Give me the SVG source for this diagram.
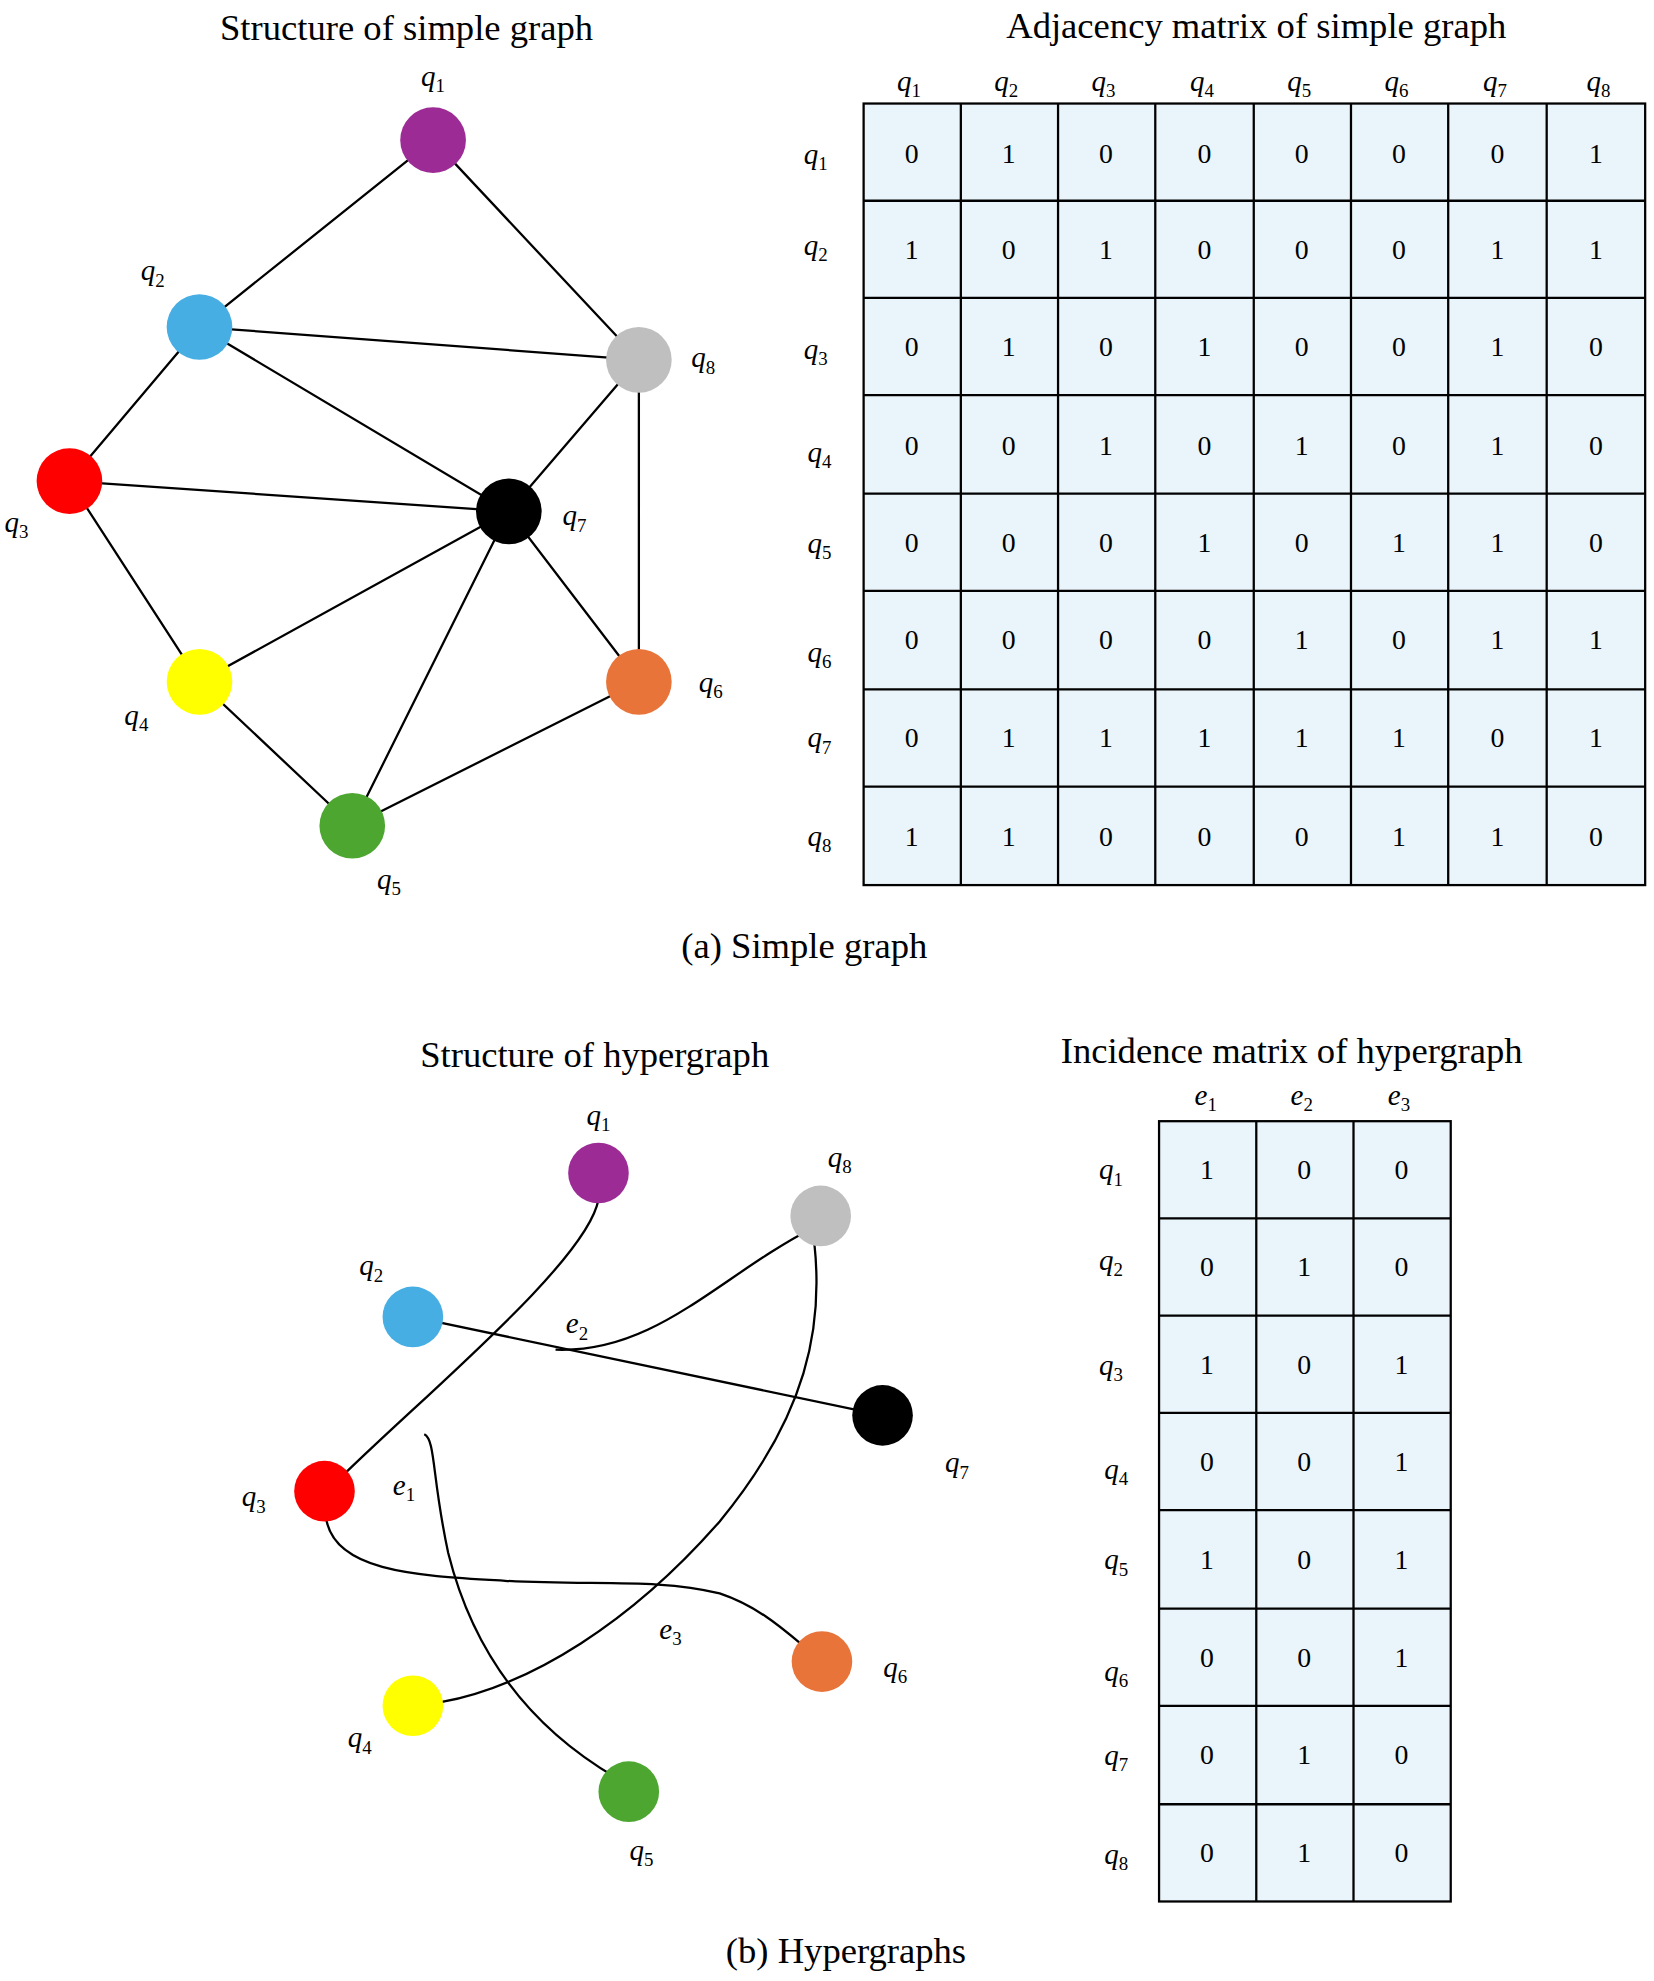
<svg xmlns="http://www.w3.org/2000/svg" width="1654" height="1981" viewBox="0 0 1654 1981">
<style>
.t{font-family:"Liberation Serif",serif;font-size:29px;fill:#000;text-anchor:middle}
.lb{font-family:"Liberation Serif",serif;font-style:italic;font-size:23px;text-anchor:middle}
.s{font-size:15px;font-style:normal}
.n{font-family:"Liberation Serif",serif;font-size:22px;text-anchor:middle}
.e{stroke:#000;stroke-width:1.8;fill:none}
.c{fill:#EAF5FB;stroke:#000;stroke-width:1.8}
</style>
<rect width="1654" height="1981" fill="#fff"/>
<g transform="scale(1.2626)">
<text class="t" x="322" y="32">Structure of simple graph</text>
<text class="t" x="995" y="30">Adjacency matrix of simple graph</text>
<text class="t" x="637" y="759">(a) Simple graph</text>
<text class="t" x="471" y="845">Structure of hypergraph</text>
<text class="t" x="1023" y="842">Incidence matrix of hypergraph</text>
<text class="t" x="670" y="1555">(b) Hypergraphs</text>
<g id="connectors">
<path class="e" d="M343,111L158,259M343,111L506,285M158,259L506,285M158,259L55,381M158,259L403,405M55,381L403,405M55,381L158,540M506,285L403,405M506,285L506,540M403,405L158,540M403,405L279,654M403,405L506,540M158,540L279,654M279,654L506,540"/>
<path class="e" d="M327,1043L699,1121"/>
<path class="e" d="M440,1069C520,1072 570,1010 645,972"/>
<path class="e" d="M474,950C465,1000 330,1110 265,1175"/>
<path class="e" d="M336,1136C345,1140 342,1170 355,1230C380,1330 440,1380 488,1408"/>
<path class="e" d="M258,1200C262,1245 330,1248 400,1252C470,1256 520,1250 570,1262C600,1272 620,1290 638,1305"/>
<path class="e" d="M350,1348C420,1335 500,1285 570,1205C640,1120 652,1050 645,985"/>
</g>
<g id="nodes-a">
<circle cx="343" cy="111" r="26" fill="#9C2B96"/>
<circle cx="158" cy="259" r="26" fill="#46AEE2"/>
<circle cx="506" cy="285" r="26" fill="#BFBFBF"/>
<circle cx="55" cy="381" r="26" fill="#F00"/>
<circle cx="403" cy="405" r="26" fill="#000"/>
<circle cx="158" cy="540" r="26" fill="#FFFF00"/>
<circle cx="506" cy="540" r="26" fill="#E8743A"/>
<circle cx="279" cy="654" r="26" fill="#4CA630"/>
<text class="lb" x="343" y="68">q<tspan class="s" dy="5">1</tspan></text>
<text class="lb" x="121" y="222">q<tspan class="s" dy="5">2</tspan></text>
<text class="lb" x="557" y="291">q<tspan class="s" dy="5">8</tspan></text>
<text class="lb" x="13" y="421">q<tspan class="s" dy="5">3</tspan></text>
<text class="lb" x="455" y="416">q<tspan class="s" dy="5">7</tspan></text>
<text class="lb" x="108" y="574">q<tspan class="s" dy="5">4</tspan></text>
<text class="lb" x="563" y="548">q<tspan class="s" dy="5">6</tspan></text>
<text class="lb" x="308" y="704">q<tspan class="s" dy="5">5</tspan></text>
</g>
<g id="nodes-b">
<circle cx="474" cy="929" r="24" fill="#9C2B96"/>
<circle cx="650" cy="963" r="24" fill="#BFBFBF"/>
<circle cx="327" cy="1043" r="24" fill="#46AEE2"/>
<circle cx="699" cy="1121" r="24" fill="#000"/>
<circle cx="257" cy="1181" r="24" fill="#F00"/>
<circle cx="651" cy="1316" r="24" fill="#E8743A"/>
<circle cx="327" cy="1351" r="24" fill="#FFFF00"/>
<circle cx="498" cy="1419" r="24" fill="#4CA630"/>
<text class="lb" x="474" y="891">q<tspan class="s" dy="5">1</tspan></text>
<text class="lb" x="665" y="924">q<tspan class="s" dy="5">8</tspan></text>
<text class="lb" x="294" y="1010">q<tspan class="s" dy="5">2</tspan></text>
<text class="lb" x="758" y="1166">q<tspan class="s" dy="5">7</tspan></text>
<text class="lb" x="201" y="1193">q<tspan class="s" dy="5">3</tspan></text>
<text class="lb" x="709" y="1328">q<tspan class="s" dy="5">6</tspan></text>
<text class="lb" x="285" y="1384">q<tspan class="s" dy="5">4</tspan></text>
<text class="lb" x="508" y="1473">q<tspan class="s" dy="5">5</tspan></text>
<text class="lb" x="457" y="1056">e<tspan class="s" dy="5">2</tspan></text>
<text class="lb" x="320" y="1184">e<tspan class="s" dy="5">1</tspan></text>
<text class="lb" x="531" y="1298">e<tspan class="s" dy="5">3</tspan></text>
</g>
<g id="adjacency-matrix">
<g>
<rect class="c" x="684" y="82" width="619" height="619"/>
<path class="e" d="M761,82V701M838,82V701M915,82V701M993,82V701M1070,82V701M1147,82V701M1225,82V701M684,159H1303M684,236H1303M684,313H1303M684,391H1303M684,468H1303M684,546H1303M684,623H1303"/>
</g>
<g class="lb">
<text x="720" y="72">q<tspan class="s" dy="5">1</tspan></text><text x="797" y="72">q<tspan class="s" dy="5">2</tspan></text><text x="874" y="72">q<tspan class="s" dy="5">3</tspan></text><text x="952" y="72">q<tspan class="s" dy="5">4</tspan></text><text x="1029" y="72">q<tspan class="s" dy="5">5</tspan></text><text x="1106" y="72">q<tspan class="s" dy="5">6</tspan></text><text x="1184" y="72">q<tspan class="s" dy="5">7</tspan></text><text x="1266" y="72">q<tspan class="s" dy="5">8</tspan></text>
<text x="646" y="130">q<tspan class="s" dy="5">1</tspan></text><text x="646" y="202">q<tspan class="s" dy="5">2</tspan></text><text x="646" y="284">q<tspan class="s" dy="5">3</tspan></text><text x="649" y="366">q<tspan class="s" dy="5">4</tspan></text><text x="649" y="438">q<tspan class="s" dy="5">5</tspan></text><text x="649" y="524">q<tspan class="s" dy="5">6</tspan></text><text x="649" y="592">q<tspan class="s" dy="5">7</tspan></text><text x="649" y="670">q<tspan class="s" dy="5">8</tspan></text>
</g>
<g class="n">
<text x="722" y="129">0</text><text x="799" y="129">1</text><text x="876" y="129">0</text><text x="954" y="129">0</text><text x="1031" y="129">0</text><text x="1108" y="129">0</text><text x="1186" y="129">0</text><text x="1264" y="129">1</text>
<text x="722" y="205">1</text><text x="799" y="205">0</text><text x="876" y="205">1</text><text x="954" y="205">0</text><text x="1031" y="205">0</text><text x="1108" y="205">0</text><text x="1186" y="205">1</text><text x="1264" y="205">1</text>
<text x="722" y="282">0</text><text x="799" y="282">1</text><text x="876" y="282">0</text><text x="954" y="282">1</text><text x="1031" y="282">0</text><text x="1108" y="282">0</text><text x="1186" y="282">1</text><text x="1264" y="282">0</text>
<text x="722" y="360">0</text><text x="799" y="360">0</text><text x="876" y="360">1</text><text x="954" y="360">0</text><text x="1031" y="360">1</text><text x="1108" y="360">0</text><text x="1186" y="360">1</text><text x="1264" y="360">0</text>
<text x="722" y="437">0</text><text x="799" y="437">0</text><text x="876" y="437">0</text><text x="954" y="437">1</text><text x="1031" y="437">0</text><text x="1108" y="437">1</text><text x="1186" y="437">1</text><text x="1264" y="437">0</text>
<text x="722" y="514">0</text><text x="799" y="514">0</text><text x="876" y="514">0</text><text x="954" y="514">0</text><text x="1031" y="514">1</text><text x="1108" y="514">0</text><text x="1186" y="514">1</text><text x="1264" y="514">1</text>
<text x="722" y="592">0</text><text x="799" y="592">1</text><text x="876" y="592">1</text><text x="954" y="592">1</text><text x="1031" y="592">1</text><text x="1108" y="592">1</text><text x="1186" y="592">0</text><text x="1264" y="592">1</text>
<text x="722" y="670">1</text><text x="799" y="670">1</text><text x="876" y="670">0</text><text x="954" y="670">0</text><text x="1031" y="670">0</text><text x="1108" y="670">1</text><text x="1186" y="670">1</text><text x="1264" y="670">0</text>
</g>
</g>
<g id="incidence-matrix">
<rect class="c" x="918" y="888" width="231" height="618"/>
<path class="e" d="M995,888V1506M1072,888V1506M918,965H1149M918,1042H1149M918,1119H1149M918,1196H1149M918,1274H1149M918,1351H1149M918,1429H1149"/>
<g class="lb">
<text x="955" y="875">e<tspan class="s" dy="5">1</tspan></text><text x="1031" y="875">e<tspan class="s" dy="5">2</tspan></text><text x="1108" y="875">e<tspan class="s" dy="5">3</tspan></text>
<text x="880" y="934">q<tspan class="s" dy="5">1</tspan></text><text x="880" y="1006">q<tspan class="s" dy="5">2</tspan></text><text x="880" y="1089">q<tspan class="s" dy="5">3</tspan></text><text x="884" y="1171">q<tspan class="s" dy="5">4</tspan></text><text x="884" y="1243">q<tspan class="s" dy="5">5</tspan></text><text x="884" y="1331">q<tspan class="s" dy="5">6</tspan></text><text x="884" y="1398">q<tspan class="s" dy="5">7</tspan></text><text x="884" y="1476">q<tspan class="s" dy="5">8</tspan></text>
</g>
<g class="n">
<text x="956" y="934">1</text><text x="1033" y="934">0</text><text x="1110" y="934">0</text>
<text x="956" y="1011">0</text><text x="1033" y="1011">1</text><text x="1110" y="1011">0</text>
<text x="956" y="1088">1</text><text x="1033" y="1088">0</text><text x="1110" y="1088">1</text>
<text x="956" y="1165">0</text><text x="1033" y="1165">0</text><text x="1110" y="1165">1</text>
<text x="956" y="1243">1</text><text x="1033" y="1243">0</text><text x="1110" y="1243">1</text>
<text x="956" y="1320">0</text><text x="1033" y="1320">0</text><text x="1110" y="1320">1</text>
<text x="956" y="1397">0</text><text x="1033" y="1397">1</text><text x="1110" y="1397">0</text>
<text x="956" y="1475">0</text><text x="1033" y="1475">1</text><text x="1110" y="1475">0</text>
</g>
</g>
</g>
</svg>
